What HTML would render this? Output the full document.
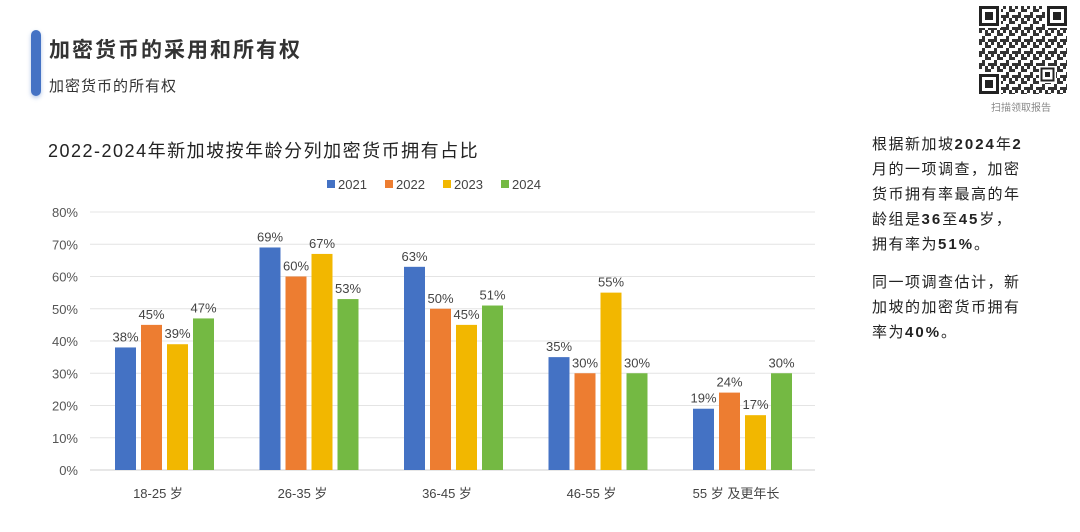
<!DOCTYPE html><html><head><meta charset="utf-8"><style>
body{margin:0;width:1080px;height:532px;background:#fff;position:relative;overflow:hidden;font-family:"Liberation Sans","Noto Sans CJK SC",sans-serif;color:#222}
.bar{position:absolute;left:31px;top:30px;width:10px;height:66px;background:#4472C4;border-radius:5px;box-shadow:0 2px 4px rgba(68,114,196,.4)}
.t1{position:absolute;left:49px;top:34px;font-size:21px;font-weight:bold;letter-spacing:2px;color:#333}
.t2{position:absolute;left:49px;top:75px;font-size:15px;letter-spacing:1px;color:#333}
.ct{position:absolute;left:48px;top:137px;font-size:18px;letter-spacing:1.5px;color:#222}
.rt{position:absolute;left:872px;top:132px;width:200px;font-size:15px;line-height:25px;letter-spacing:1.5px;color:#222;white-space:nowrap}
.rt p{margin:0 0 13px}
.rt b{font-weight:bold;letter-spacing:2px}
.qrl{position:absolute;left:991px;top:99px;font-size:10px;color:#888}
</style></head><body>
<div class="bar"></div>
<div class="t1">加密货币的采用和所有权</div>
<div class="t2">加密货币的所有权</div>
<div class="ct">2022-2024年新加坡按年龄分列加密货币拥有占比</div>
<div class="rt"><p>根据新加坡<b>2024</b>年<b>2</b><br>月的一项调查，加密<br>货币拥有率最高的年<br>龄组是<b>36</b>至<b>45</b>岁，<br>拥有率为<b>51%</b>。</p><p>同一项调查估计，新<br>加坡的加密货币拥有<br>率为<b>40%</b>。</p></div>
<svg style="position:absolute;left:979px;top:6px" width="88" height="88" viewBox="0 0 88 88">
<defs><pattern id="q" width="12" height="12" patternUnits="userSpaceOnUse">
<rect x="0" y="0" width="3" height="3" fill="#333"/><rect x="6" y="0" width="3" height="6" fill="#333"/><rect x="3" y="6" width="3" height="3" fill="#333"/><rect x="9" y="3" width="3" height="3" fill="#333"/><rect x="0" y="9" width="6" height="3" fill="#333"/><rect x="9" y="9" width="3" height="3" fill="#333"/></pattern></defs>
<rect width="88" height="88" fill="url(#q)"/>
<g fill="#fff"><rect x="0" y="0" width="22" height="22"/><rect x="66" y="0" width="22" height="22"/><rect x="0" y="66" width="22" height="22"/><rect x="60" y="60" width="17" height="17"/></g>
<g fill="none" stroke="#222" stroke-width="3"><rect x="1.5" y="1.5" width="17" height="17"/><rect x="69.5" y="1.5" width="17" height="17"/><rect x="1.5" y="69.5" width="17" height="17"/><rect x="62.5" y="62.5" width="12" height="12" stroke-width="2"/></g>
<g fill="#222"><rect x="6" y="6" width="8" height="8"/><rect x="74" y="6" width="8" height="8"/><rect x="6" y="74" width="8" height="8"/><rect x="66" y="66" width="5" height="5"/></g></svg>
<div class="qrl">扫描领取报告</div>
<svg style="position:absolute;left:0;top:0" width="1080" height="532" font-family="Liberation Sans,Noto Sans CJK SC,sans-serif">
<g id="g"></g></svg>
<script>
const g=document.getElementById('g');let s='';
const Y=v=>470-v*3.225;
for(let i=0;i<=8;i++){const y=Y(i*10);s+=`<line x1="90" x2="815" y1="${y}" y2="${y}" stroke="${i?'#e4e4e4':'#cfcfcf'}" stroke-width="1"/><text x="78" y="${y+5}" text-anchor="end" font-size="13" fill="#555">${i*10}%</text>`;}
const d=[[38,45,39,47],[69,60,67,53],[63,50,45,51],[35,30,55,30],[19,24,17,30]];
const c=['#4472C4','#ED7D31','#F2B700','#74B943'];
const lab=['18-25 岁','26-35 岁','36-45 岁','46-55 岁','55 岁 及更年长'];
d.forEach((r,i)=>{const cx=164+144.5*i;r.forEach((v,j)=>{const x=cx-49+26*j;s+=`<rect x="${x}" y="${Y(v)}" width="21" height="${v*3.225}" fill="${c[j]}"/><text x="${x+10.5}" y="${Y(v)-6}" text-anchor="middle" font-size="13" fill="#444">${v}%</text>`;});
s+=`<text x="${cx-6}" y="498" text-anchor="middle" font-size="13" fill="#444">${lab[i]}</text>`;});
['2021','2022','2023','2024'].forEach((t,j)=>{const x=327+58*j;s+=`<rect x="${x}" y="180" width="8" height="8" fill="${c[j]}"/><text x="${x+11}" y="189" font-size="13" fill="#444">${t}</text>`;});
g.innerHTML=s;
</script>
</body></html>
